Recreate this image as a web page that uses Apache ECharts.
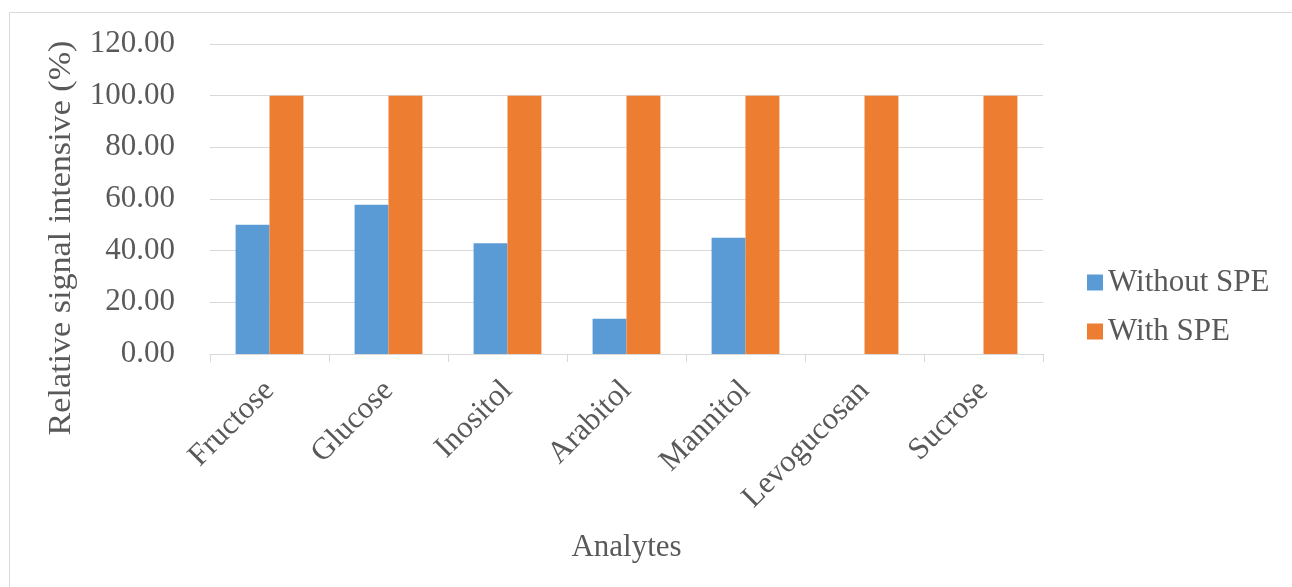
<!DOCTYPE html>
<html>
<head>
<meta charset="utf-8">
<script src="https://cdn.jsdelivr.net/npm/echarts@6/dist/echarts.min.js"></script>
<style>
html,body{margin:0;padding:0;background:#fff;}
#chart{width:1292px;height:587px;}
</style>
</head>
<body>
<div id="chart"></div>
<script>
var categories = ['Fructose', 'Glucose', 'Inositol', 'Arabitol', 'Mannitol', 'Levogucosan', 'Sucrose'];
var withoutSPE = [50.0, 57.8, 42.9, 13.6, 45.0, 0, 0];
var withSPE = [100, 100, 100, 100, 100, 100, 100];
var seriesNames = ['Without SPE', 'With SPE'];
var yAxisTitle = 'Relative signal intensive (%)';
var xAxisTitle = 'Analytes';

var FONT = '"Liberation Serif", "Times New Roman", serif';
var TXT = '#595959';
var chart = echarts.init(document.getElementById('chart'), null, {renderer: 'canvas'});
chart.setOption({
  animation: false,
  backgroundColor: '#ffffff',
  textStyle: {fontFamily: FONT},
  graphic: [
    {type: 'rect', shape: {x: 9.5, y: 12.5, width: 1400, height: 700}, style: {fill: 'none', stroke: '#d9d9d9', lineWidth: 1}, silent: true, z: -10},
    {type: 'text', x: 62, y: 238, rotation: Math.PI / 2, scaleX: 1.1, style: {text: yAxisTitle, fill: TXT, font: '31px ' + FONT, align: 'center', verticalAlign: 'middle'}}
  ],
  legend: {
    orient: 'vertical',
    left: 1082,
    top: 262,
    itemWidth: 16,
    itemHeight: 16,
    itemGap: 18,
    icon: 'rect',
    textStyle: {fontFamily: FONT, fontSize: 31, color: TXT, padding: [0, 0, 0, 0]},
    data: seriesNames
  },
  grid: {left: 210, right: 249, top: 44, bottom: 233, containLabel: false},
  xAxis: {
    type: 'category',
    data: categories,
    name: xAxisTitle,
    nameLocation: 'middle',
    nameGap: 178,
    nameTextStyle: {fontFamily: FONT, fontSize: 31, color: TXT},
    axisLine: {lineStyle: {color: '#d9d9d9', width: 1}},
    axisTick: {show: true, length: 8, lineStyle: {color: '#d9d9d9'}},
    axisLabel: {rotate: 45, fontFamily: FONT, fontSize: 31, color: TXT, margin: 32},
    splitLine: {show: false}
  },
  yAxis: {
    type: 'value',
    min: 0,
    max: 120,
    interval: 20,
    axisLine: {show: false},
    axisTick: {show: false},
    axisLabel: {fontFamily: FONT, fontSize: 31, color: TXT, margin: 35, formatter: function (v) { return v.toFixed(2); }},
    splitLine: {lineStyle: {color: '#d9d9d9', width: 1}}
  },
  series: [
    {name: seriesNames[0], type: 'bar', data: withoutSPE, itemStyle: {color: '#5b9bd5'}, barGap: '0%', barCategoryGap: '43%'},
    {name: seriesNames[1], type: 'bar', data: withSPE, itemStyle: {color: '#ed7d31'}, barGap: '0%', barCategoryGap: '43%'}
  ]
});
</script>
</body>
</html>
